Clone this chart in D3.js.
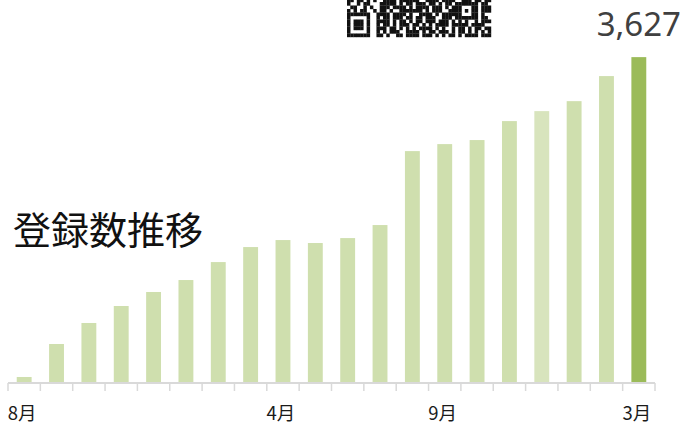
<!DOCTYPE html>
<html>
<head>
<meta charset="utf-8">
<script src="https://cdn.jsdelivr.net/npm/d3@7"></script>
<style>
  html, body { margin: 0; padding: 0; background: #fff; overflow: hidden; }
  svg { display: block; }
</style>
</head>
<body>
<div id="viz-container"></div>
<script>
// month categories (Aug .. Mar, 20 months)
const months = ["8月", "9月", "10月", "11月", "12月", "1月", "2月", "3月", "4月", "5月",
                "6月", "7月", "8月", "9月", "10月", "11月", "12月", "1月", "2月", "3月"];
// registrations (last one is labelled)
const counts = [67, 434, 668, 857, 1013, 1146, 1346, 1513, 1591, 1558,
                1613, 1758, 2581, 2659, 2704, 2915, 3026, 3137, 3416, 3627];
// which months get an axis label
const labelIdx = [0, 8, 13, 19];
const titleText = "登録数推移";

// rough QR code picture at the top (decoration)
const qrRows = [
  "##.##.#.#..####.######..####.####..###.##.###",
  "#..#.##...#####.#.##.###.##.#.##.#.#####.##.",
  ".##..#.#..###.####.#.####.###.#.##.#...#.###",
  "#.#.##..#.##.#..#######.#.###..###.#.#.#.###",
  ".........####.####.#..####.#.#####.#...#.#..",
  ".........#.##.###.##.##.###..###.#.#####.##.",
  ".........####.#.##.#.##.###.###.#.#.#..#.###",
  ".........#.##.#.###.##.#.#.####.#####.####..",
  ".........###.##.#.#.#.####.#.#..#.##.#.##.##",
  ".........#.#.###..####.#.##.###.#.##.#.#.#.#",
  ".........##.#..##.####.###.#.#.##.#.####.###"
];

const W = 685, H = 428;
const axisY = 383, left = 8, right = 655;

const svg = d3.select("#viz-container")
    .append("svg")
    .attr("width", W)
    .attr("height", H);

// Scales
const x = d3.scaleBand()
    .domain(d3.range(months.length))
    .range([left, right])
    .paddingInner(0.54)
    .paddingOuter(0.27);
const y = d3.scaleLinear()
    .domain([0, 4000])
    .range([axisY, axisY - 4000 / 11.13]);

// Bars
svg.append("g").selectAll("rect")
    .data(counts)
    .enter().append("rect")
    .attr("x", (d, i) => x(i))
    .attr("y", d => y(d))
    .attr("width", x.bandwidth())
    .attr("height", d => y(0) - y(d))
    .attr("fill", (d, i) => i === counts.length - 1 ? "#9bbb59" : (i === 16 ? "#d8e4bd" : "#cfdfae"));

// value label on the last bar
const last = counts.length - 1;
svg.append("text")
    .attr("x", x(last) + x.bandwidth() / 2)
    .attr("y", y(counts[last]) - 21)
    .attr("text-anchor", "middle")
    .attr("font-family", "'Noto Sans', sans-serif")
    .attr("font-size", "33px")
    .attr("fill", "#404040")
    .text(d3.format(",")(counts[last]));

// Axis line + tick marks at band edges
const step = x.step();
const edge = d3.range(months.length + 1).map(i => left + i * step);
const axis = svg.append("g");
axis.append("line")
    .attr("x1", left).attr("x2", right)
    .attr("y1", axisY).attr("y2", axisY)
    .attr("stroke", "#d9d9d9").attr("stroke-width", 2);
axis.selectAll(".tk")
    .data(edge)
    .enter().append("line")
    .attr("class", "tk")
    .attr("x1", d => d).attr("x2", d => d)
    .attr("y1", axisY).attr("y2", axisY + 8)
    .attr("stroke", "#d9d9d9").attr("stroke-width", 1.5);

// Month labels
const labels = svg.append("g")
    .attr("transform", `translate(0,${axisY})`)
    .call(d3.axisBottom(x)
        .tickValues(labelIdx)
        .tickSize(0)
        .tickPadding(24)
        .tickFormat(i => months[i]));
labels.select(".domain").remove();
labels.selectAll("text")
    .attr("dx", "-2px")
    .attr("font-family", "'Noto Sans CJK JP', sans-serif")
    .attr("font-size", "18.5px")
    .attr("fill", "#1a1a1a");

// Title
svg.append("text")
    .attr("x", 13)
    .attr("y", 244)
    .attr("font-family", "'Noto Sans CJK JP', sans-serif")
    .attr("font-size", "38px")
    .attr("fill", "#111")
    .text(titleText);

// QR code picture
const qr = svg.append("g").attr("transform", "translate(347,-1.5)");
const mw = 144 / 44, mh = 3.5;
const grid = qrRows.map(r => r.padEnd(44, ".").slice(0, 44).split(""));
function stamp(c0, r0, pat) {
    pat.forEach((row, r) => row.split("").forEach((ch, c) => {
        if (grid[r0 + r] && c0 + c < 44) grid[r0 + r][c0 + c] = ch;
    }));
}
stamp(0, 4, ["#######.", "#.....#.", "#.###.#.", "#.###.#.", "#.###.#.", "#.....#.", "#######."]);
stamp(34, 1, ["#####", "#...#", "#.#.#", "#...#", "#####"]);
grid.forEach((row, r) => row.forEach((ch, c) => {
    if (ch === "#") {
        qr.append("rect")
            .attr("x", c * mw).attr("y", r * mh)
            .attr("width", mw + 0.2).attr("height", mh + 0.2)
            .attr("fill", "#111");
    }
}));
</script>
</body>
</html>
